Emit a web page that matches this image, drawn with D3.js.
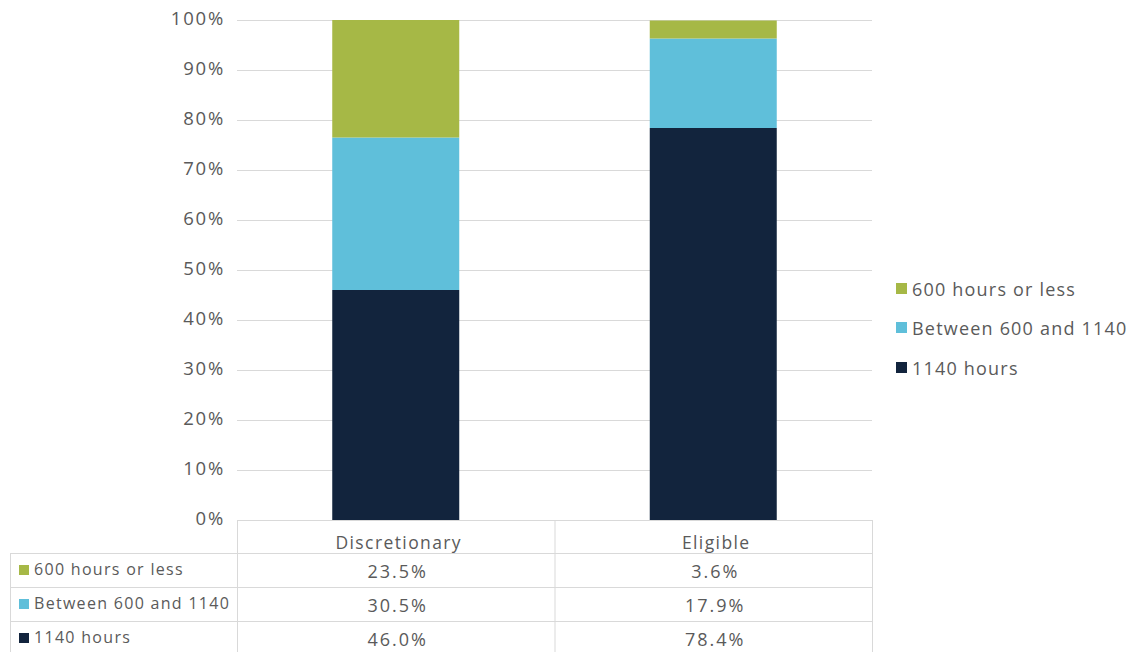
<!DOCTYPE html>
<html><head><meta charset="utf-8">
<script src="https://cdn.jsdelivr.net/npm/d3@7"></script>
<style>
body{margin:0;background:#fff;}
svg{display:block;font-family:"Open Sans",sans-serif;}
</style></head><body>
<svg id="c" width="1136" height="652"></svg>
<script>
const categories = ["Discretionary","Eligible"];
const seriesNames = ["600 hours or less","Between 600 and 1140","1140 hours"];
const seriesColors = ["#a6b846","#5fbfda","#12243d"];
const values600OrLess = [23.5, 3.6];
const valuesBetween = [30.5, 17.9];
const values1140 = [46.0, 78.4];
const yTicks = [0,10,20,30,40,50,60,70,80,90,100];

const svg = d3.select("#c");
const pLeft = 237, pRight = 872, pTop = 20, pBottom = 520;
const x = d3.scaleBand().domain(categories).range([pLeft,pRight]).paddingInner(0).paddingOuter(0);
const y = d3.scaleLinear().domain([0,100]).range([pBottom,pTop]);
const barW = x.bandwidth()*0.4;
const textCol = "#5a5a5a";
const gridCol = "#d9d9d9";

// gridlines
svg.append("g").selectAll("line").data(yTicks).join("line")
  .attr("x1",pLeft).attr("x2",pRight)
  .attr("y1",d=>y(d)+0.5).attr("y2",d=>y(d)+0.5)
  .attr("stroke",gridCol).attr("stroke-width",1);

// y axis labels
const yAxis = d3.axisLeft(y).tickValues(yTicks).tickFormat(d=>d+"%").tickSize(0).tickPadding(12);
const ya = svg.append("g").attr("transform",`translate(${pLeft},0)`).call(yAxis);
ya.select(".domain").remove();
ya.selectAll("text").attr("fill",textCol).attr("dy","0.24em")
  .style("font-size","18.5px").style("letter-spacing","1.8px").style("font-family","'Open Sans',sans-serif");

// stacked data
const seriesVals = [values600OrLess, valuesBetween, values1140];
const rows = categories.map((c,i)=>({cat:c, s0:values1140[i], s1:valuesBetween[i], s2:values600OrLess[i]}));
const stacked = d3.stack().keys(["s0","s1","s2"])(rows);
const colorByKey = {s0:seriesColors[2], s1:seriesColors[1], s2:seriesColors[0]};
svg.append("g").selectAll("g").data(stacked).join("g")
  .attr("fill",d=>colorByKey[d.key])
  .selectAll("rect").data(d=>d).join("rect")
  .attr("x",d=>x(d.data.cat)+x.bandwidth()/2-barW/2)
  .attr("width",barW)
  .attr("y",d=>y(Math.min(100,d[1])))
  .attr("height",d=>y(d[0])-y(Math.min(100,d[1])));

// legend
const lg = svg.append("g").attr("transform","translate(896,0)");
const legY = [289,328,368];
seriesNames.forEach((n,i)=>{
  lg.append("rect").attr("x",0).attr("y",legY[i]-6).attr("width",11).attr("height",11).attr("fill",seriesColors[i]);
  lg.append("text").attr("x",16).attr("y",legY[i]+7).text(n).attr("fill",textCol)
    .style("font-size","18px").style("letter-spacing","1.2px");
});

// data table
const tLeft = 10;
const tg = svg.append("g");
const hdrBottom = 553;
const rowTops = [553,587,621,655];
tg.append("line").attr("x1",pLeft).attr("x2",pRight).attr("y1",pBottom+0.5).attr("y2",pBottom+0.5).attr("stroke",gridCol);
rowTops.slice(0,3).forEach(yy=>{
  tg.append("line").attr("x1",tLeft).attr("x2",pRight).attr("y1",yy+0.5).attr("y2",yy+0.5).attr("stroke",gridCol);
});
const colEdges = [pLeft, x("Eligible"), pRight];
colEdges.forEach(xx=>{
  tg.append("line").attr("x1",xx+0.5).attr("x2",xx+0.5).attr("y1",pBottom).attr("y2",652).attr("stroke",gridCol);
});
tg.append("line").attr("x1",tLeft+0.5).attr("x2",tLeft+0.5).attr("y1",hdrBottom).attr("y2",652).attr("stroke",gridCol);
categories.forEach(c=>{
  tg.append("text").attr("x",x(c)+x.bandwidth()/2+3).attr("y",549).attr("text-anchor","middle")
    .attr("fill",textCol).style("font-size","17.5px").style("letter-spacing","1.4px").text(c);
});
seriesNames.forEach((n,i)=>{
  const base = rowTops[i];
  tg.append("rect").attr("x",19).attr("y",base+12).attr("width",10).attr("height",10).attr("fill",seriesColors[i]);
  tg.append("text").attr("x",34).attr("y",base+22).attr("fill",textCol)
    .style("font-size","16px").style("letter-spacing","1.3px").text(n);
  categories.forEach((c,j)=>{
    tg.append("text").attr("x",x(c)+x.bandwidth()/2+2).attr("y",base+25).attr("text-anchor","middle")
      .attr("fill",textCol).style("font-size","18px").style("letter-spacing","2px").text(seriesVals[i][j].toFixed(1)+"%");
  });
});
</script></body></html>
